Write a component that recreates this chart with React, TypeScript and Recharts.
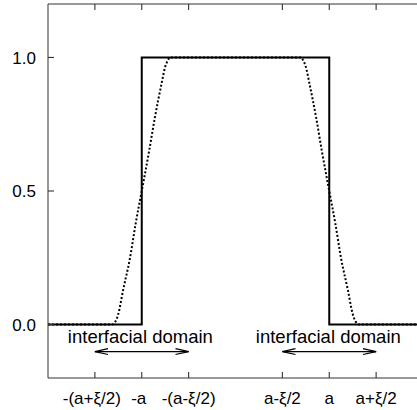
import React from 'react';
import { LineChart, Line, XAxis, YAxis, ReferenceDot } from 'recharts';

const xTicks = [-3, -2, -1, 1, 2, 3];
const xTickLabels = ['-(a+ξ/2)', '-a', '-(a-ξ/2)', 'a-ξ/2', 'a', 'a+ξ/2'];
const yTicks = [0, 0.5, 1];

const sharpX = [-4, -2, -2, 2, 2, 4];
const sharpY = [0, 0, 1, 1, 0, 0];

const smoothX = [-4, -2.64, -2.56, -2.5, -2.4, -2.25, -2.13, -2.0, -1.84, -1.72, -1.58, -1.5, -1.44, -1.4,
  1.4, 1.44, 1.5, 1.58, 1.72, 1.84, 2.0, 2.13, 2.25, 2.4, 2.5, 2.56, 2.64, 4];
const smoothY = [0, 0, 0.012, 0.04, 0.127, 0.25, 0.378, 0.5, 0.652, 0.775, 0.9, 0.965, 0.99, 1,
  1, 0.99, 0.965, 0.9, 0.775, 0.652, 0.5, 0.378, 0.25, 0.127, 0.04, 0.012, 0, 0];

const arrowY = -0.101;
const domainLabels = ['interfacial domain', 'interfacial domain'];
const domainCenters = [-2.03, 1.98];
const domainLabelY = -0.046;
const arrowSpans = [[-3, -1], [1, 3]];
const headLen = 0.28;
const headHalf = 0.011;
const yMax = 1.2;
const topTickLen = 0.022;

const zip = (xs: number[], ys: number[]) => xs.map((x, i) => ({ x, y: ys[i] }));
const sharpData = zip(sharpX, sharpY);
const smoothData = zip(smoothX, smoothY);

const arrowSeries = arrowSpans.flatMap(([a, b]) => [
  [{ x: a, y: arrowY }, { x: b, y: arrowY }],
  [{ x: a + headLen, y: arrowY + headHalf }, { x: a, y: arrowY }, { x: a + headLen, y: arrowY - headHalf }],
  [{ x: b - headLen, y: arrowY + headHalf }, { x: b, y: arrowY }, { x: b - headLen, y: arrowY - headHalf }],
]);
const topTickData = xTicks.flatMap((t) => [
  { x: t, y: yMax },
  { x: t, y: yMax - topTickLen },
  { x: t, y: yMax },
]);
const topBorderData = [{ x: -4, y: yMax }, ...topTickData, { x: 4, y: yMax }];

const FONT = '"Liberation Sans", Arial, Helvetica, sans-serif';
const AXIS = '#333';

const BottomTick = (props: any) => {
  const { x, y, payload } = props;
  const idx = xTicks.indexOf(payload.value);
  const label = idx >= 0 ? xTickLabels[idx] : '';
  return (
    <g>
      <line x1={x} y1={y} x2={x} y2={y - 6} stroke={AXIS} strokeWidth={1.1} />
      <text x={x} dx={label.startsWith('-(a+') || label === '-a' ? -3 : 0} y={y + 26} textAnchor="middle" fontSize={17} fontFamily={FONT} fill="#000">
        {label}
      </text>
    </g>
  );
};

const LeftTick = (props: any) => {
  const { x, y, payload } = props;
  return (
    <g>
      <line x1={x} y1={y} x2={x + 6} y2={y} stroke={AXIS} strokeWidth={1.1} />
      <text x={x - 12} y={y} dy="0.36em" textAnchor="end" fontSize={17} fontFamily={FONT} fill="#000">
        {Number(payload.value).toFixed(1)}
      </text>
    </g>
  );
};

export default function App() {
  return (
    <div style={{ position: 'absolute', left: 0, top: 0, width: 417, height: 410, overflow: 'hidden', background: '#fff' }}>
      <LineChart width={423} height={410} margin={{ top: 4, right: 0, left: 0, bottom: 0 }}>
        <XAxis
          dataKey="x"
          type="number"
          domain={[-4, 4]}
          ticks={xTicks}
          height={32}
          axisLine={{ stroke: AXIS, strokeWidth: 1 }}
          tickLine={false}
          tickSize={0}
          tickMargin={0}
          tick={<BottomTick />}
          interval={0}
        />
        <YAxis
          type="number"
          domain={[-0.2, yMax]}
          ticks={yTicks}
          width={48}
          axisLine={{ stroke: AXIS, strokeWidth: 1 }}
          tickLine={false}
          tickSize={0}
          tickMargin={0}
          tick={<LeftTick />}
          interval={0}
        />
        <Line data={topBorderData} dataKey="y" type="linear" stroke={AXIS} strokeWidth={1.1} dot={false} activeDot={false} isAnimationActive={false} />
        <Line data={sharpData} dataKey="y" type="linear" stroke="#000" strokeWidth={2} dot={false} isAnimationActive={false} />
        <Line data={smoothData} dataKey="y" type="monotone" stroke="#000" strokeWidth={2} strokeDasharray="2 2" dot={false} isAnimationActive={false} />
        {arrowSeries.map((d, i) => (
          <Line key={i} data={d} dataKey="y" type="linear" stroke="#000" strokeWidth={1.2} dot={false} isAnimationActive={false} />
        ))}
        {domainLabels.map((t, i) => (
          <ReferenceDot
            key={i}
            x={domainCenters[i]}
            y={domainLabelY}
            r={1}
            fill="none"
            stroke="none"
            label={{ value: t, position: 'center', fontSize: 18.5, fontFamily: FONT, fill: '#000' }}
          />
        ))}
      </LineChart>
    </div>
  );
}
